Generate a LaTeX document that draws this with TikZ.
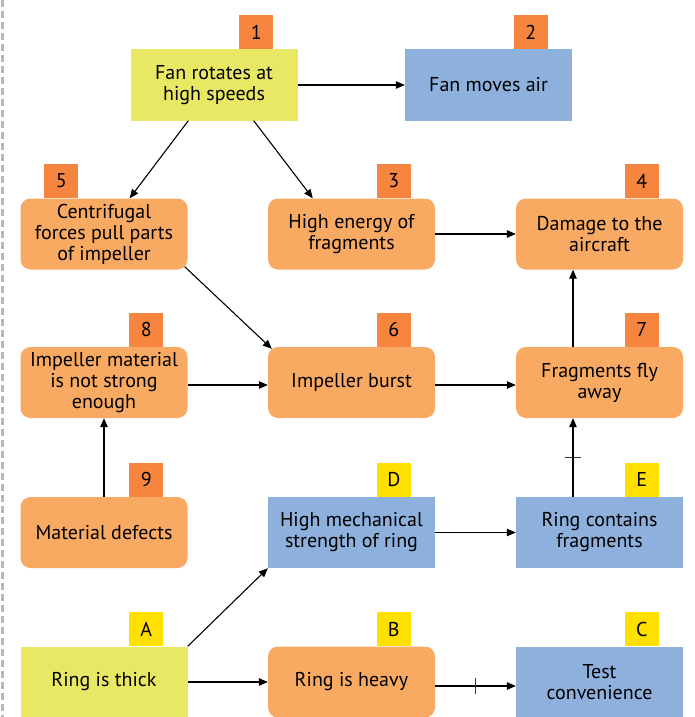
\documentclass[tikz,border=0pt]{standalone}
\usepackage{fontspec}
\setmainfont{PT Sans}
\usetikzlibrary{arrows.meta,calc}
\definecolor{ybox}{HTML}{E8E864}
\definecolor{bbox}{HTML}{8DB0DC}
\definecolor{obox}{HTML}{F8AA62}
\definecolor{olab}{HTML}{F5853F}
\definecolor{ylab}{HTML}{FFE000}
\begin{document}
\begin{tikzpicture}[x=1pt,y=-1pt,
  box/.style={minimum width=167pt,minimum height=71pt,inner sep=0pt,align=center,
    font=\fontsize{20}{21}\selectfont},
  sqbox/.style={box,fill=#1},
  rbox/.style={box,fill=obox,rounded corners=10pt},
  lab/.style={minimum width=34pt,minimum height=34pt,inner sep=0pt,anchor=south,
    fill=#1,font=\fontsize{20}{21}\selectfont},
  arr/.style={draw=black,line width=1.1pt,-{Triangle[length=9pt,width=7.5pt]}},
  tick/.style={draw=black!80,line width=1pt}]
\useasboundingbox (0,0) rectangle (695,717);
% left dashed border
\draw[black!28,line width=3pt,dash pattern=on 7pt off 4pt] (2,0) -- (2,717);
% boxes
\node[sqbox=ybox] (n1) at (214,85) {Fan rotates at\\high speeds};
\node[sqbox=bbox] (n2) at (488.5,85) {Fan moves air};
\node[rbox] (n5) at (104,234) {Centrifugal\\forces pull parts\\of impeller};
\node[rbox] (n3) at (351.5,234) {High energy of\\fragments};
\node[rbox] (n4) at (599.5,234) {Damage to the\\aircraft};
\node[rbox] (n8) at (104,382.5) {Impeller material\\is not strong\\enough};
\node[rbox] (n6) at (351.5,382.5) {Impeller burst};
\node[rbox] (n7) at (599.5,382.5) {Fragments fly\\away};
\node[rbox] (n9) at (104,532.5) {Material defects};
\node[sqbox=bbox] (nD) at (351.5,532.5) {High mechanical\\strength of ring};
\node[sqbox=bbox] (nE) at (599.5,532.5) {Ring contains\\fragments};
\node[sqbox=ybox] (nA) at (104,682) {Ring is thick};
\node[rbox] (nB) at (351.5,682) {Ring is heavy};
\node[sqbox=bbox] (nC) at (599.5,682) {Test\\convenience};
% labels
\node[lab=olab] (l1) at ($(n1.north west)+(126,0)$) {1};
\node[lab=olab] (l2) at ($(n2.north west)+(126,0)$) {2};
\node[lab=olab] (l5) at ($(n5.north west)+(41,0)$) {5};
\node[lab=olab] (l3) at ($(n3.north west)+(126,0)$) {3};
\node[lab=olab] (l4) at ($(n4.north west)+(126,0)$) {4};
\node[lab=olab] (l8) at ($(n8.north west)+(126,0)$) {8};
\node[lab=olab] (l6) at ($(n6.north west)+(126,0)$) {6};
\node[lab=olab] (l7) at ($(n7.north west)+(126,0)$) {7};
\node[lab=olab] (l9) at ($(n9.north west)+(126,0)$) {9};
\node[lab=ylab] (lD) at ($(nD.north west)+(126,0)$) {D};
\node[lab=ylab] (lE) at ($(nE.north west)+(126,0)$) {E};
\node[lab=ylab] (lA) at ($(nA.north west)+(126,0)$) {A};
\node[lab=ylab] (lB) at ($(nB.north west)+(126,0)$) {B};
\node[lab=ylab] (lC) at ($(nC.north west)+(126,0)$) {C};
% connectors
\draw[arr] (n1) -- (n2);
\draw[arr] ($(n1.south west)+(58,0)$) -- ($(n5.north east)+(-58,0)$);
\draw[arr] ($(n1.south east)+(-44,0)$) -- ($(n3.north west)+(45,0)$);
\draw[arr] ($(n5.south east)+(-3,-3)$) -- ($(n6.north west)+(4,2)$);
\draw[arr] (n3) -- (n4);
\draw[arr] ([yshift=-2.5pt]n8.east) -- ([yshift=-2.5pt]n6.west);
\draw[arr] ([yshift=-2.5pt]n6.east) -- ([yshift=-2.5pt]n7.west);
\draw[arr] ([xshift=-26.5pt]n7.north) -- ([xshift=-26.5pt]n4.south);
\draw[arr] (n9) -- (n8);
\draw[arr] ([xshift=-26.5pt]nE.north) -- coordinate[pos=0.5] (t1) ([xshift=-26.5pt]n7.south);
\draw[arr] (nD) -- (nE);
\draw[arr] (nA.north east) -- (nD.south west);
\draw[arr] (nA) -- (nB);
\draw[arr] ([yshift=-4pt]nB.east) -- coordinate[pos=0.5] (t2) ([yshift=-4pt]nC.west);
\draw[tick] ($(t1)+(-8,0)$) -- ($(t1)+(8,0)$);
\draw[tick] ($(t2)+(0,-8)$) -- ($(t2)+(0,8)$);
\end{tikzpicture}
\end{document}
